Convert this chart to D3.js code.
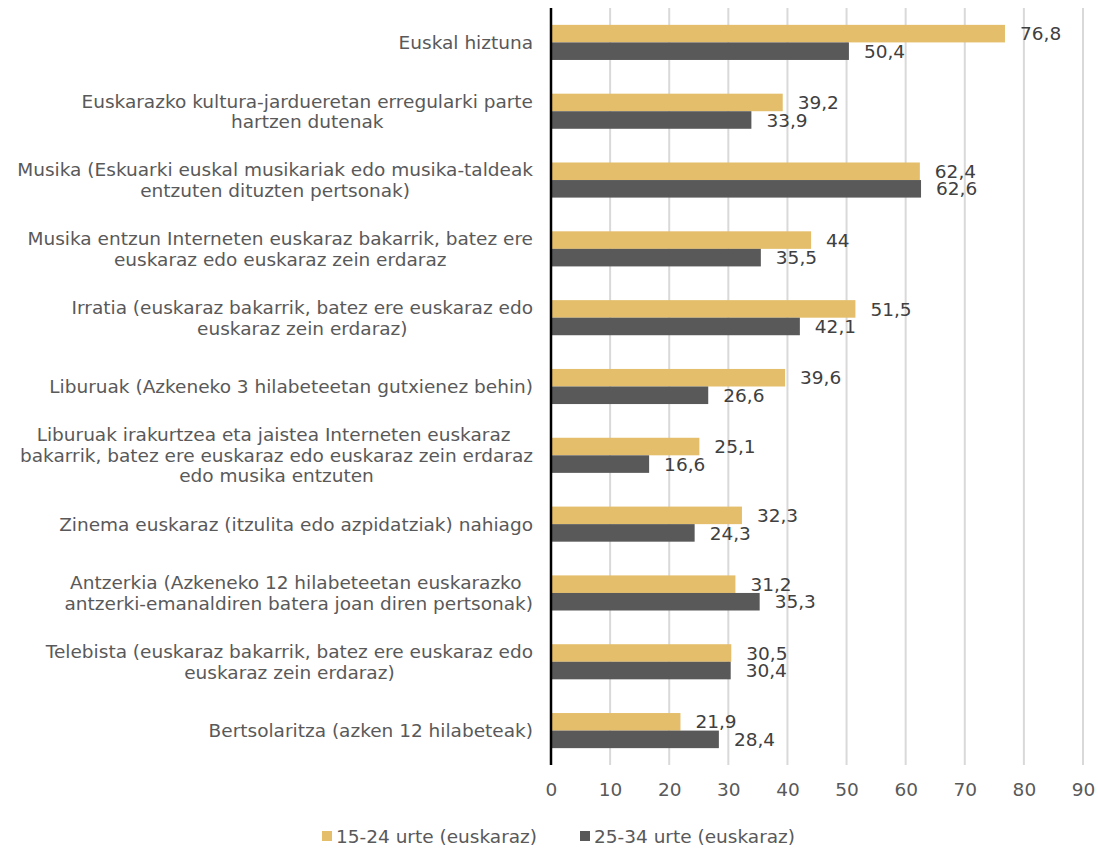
<!DOCTYPE html>
<html><head><meta charset="utf-8">
<script src="https://cdn.jsdelivr.net/npm/d3@7"></script>
<style>body{margin:0;background:#fff}svg{display:block;font-family:"DejaVu Sans",Verdana,sans-serif}</style>
</head><body><svg id="c" width="1098" height="849"></svg>
<script>
const categories = [
  "Euskal hiztuna",
  "Euskarazko kultura-jardueretan erregularki parte|hartzen dutenak",
  "Musika (Eskuarki euskal musikariak edo musika-taldeak|entzuten dituzten pertsonak)",
  "Musika entzun Interneten euskaraz bakarrik, batez ere|euskaraz edo euskaraz zein erdaraz",
  "Irratia (euskaraz bakarrik, batez ere euskaraz edo|euskaraz zein erdaraz)",
  "Liburuak (Azkeneko 3 hilabeteetan gutxienez behin)",
  "Liburuak irakurtzea eta jaistea Interneten euskaraz |bakarrik, batez ere euskaraz edo euskaraz zein erdaraz|edo musika entzuten",
  "Zinema euskaraz (itzulita edo azpidatziak) nahiago",
  "Antzerkia (Azkeneko 12 hilabeteetan euskarazko |antzerki-emanaldiren batera joan diren pertsonak)",
  "Telebista (euskaraz bakarrik, batez ere euskaraz edo|euskaraz zein erdaraz)",
  "Bertsolaritza (azken 12 hilabeteak)"
];
const series1Name = "15-24 urte (euskaraz)";
const series2Name = "25-34 urte (euskaraz)";
const series1 = [76.8, 39.2, 62.4, 44, 51.5, 39.6, 25.1, 32.3, 31.2, 30.5, 21.9];
const series2 = [50.4, 33.9, 62.6, 35.5, 42.1, 26.6, 16.6, 24.3, 35.3, 30.4, 28.4];
const xTicks = [0,10,20,30,40,50,60,70,80,90];

(function(){
const svg = d3.select("#c");
const pL = 551, pR = 1083, pT = 8, pB = 765;
const fs = "18.5px";
const x = d3.scaleLinear().domain([0,90]).range([pL,pR]);
const y = d3.scaleBand().domain(d3.range(categories.length)).range([pT,pB]).paddingInner(0.49).paddingOuter(0.245);
const sub = d3.scaleBand().domain([0,1]).range([0,y.bandwidth()]);
const colors = ["#E4BE6A","#595959"];
const textCol = "#595959";

svg.append("g").selectAll("line").data(xTicks.slice(1)).join("line")
  .attr("x1",d=>x(d)).attr("x2",d=>x(d)).attr("y1",pT).attr("y2",pB)
  .attr("stroke","#D9D9D9").attr("stroke-width",2);

const xAxis = d3.axisBottom(x).tickValues(xTicks).tickSize(0).tickPadding(0);
const gx = svg.append("g").attr("transform",`translate(0,${pB+18})`).call(xAxis);
gx.select(".domain").remove();
gx.selectAll("text").attr("fill",textCol).style("font-size",fs).style("font-family","DejaVu Sans, sans-serif");

const data = categories.map((c,i)=>({i, vals:[series1[i],series2[i]]}));
const groups = svg.append("g").selectAll("g").data(data).join("g")
  .attr("transform",d=>`translate(0,${y(d.i)})`);
groups.selectAll("rect").data(d=>d.vals.map((v,k)=>({v,k}))).join("rect")
  .attr("x",x(0)).attr("y",d=>sub(d.k)).attr("width",d=>x(d.v)-x(0)).attr("height",sub.bandwidth())
  .attr("fill",d=>colors[d.k]);
groups.selectAll("text.val").data(d=>d.vals.map((v,k)=>({v,k}))).join("text")
  .attr("class","val")
  .attr("x",d=>x(d.v)+15).attr("y",d=>sub(d.k)+sub.bandwidth()/2).attr("dy","0.36em")
  .attr("fill","#404040").style("font-size",fs)
  .text(d=>String(d.v).replace(".",","));

svg.append("line").attr("x1",pL).attr("x2",pL).attr("y1",pT).attr("y2",pB)
  .attr("stroke","#000").attr("stroke-width",2.5);

const lh = 20.5;
const lab = svg.append("g").selectAll("text").data(categories).join("text")
  .attr("text-anchor","middle").attr("fill",textCol).style("font-size",fs)
  .each(function(c,i){
    const lines = c.split("|");
    const cy = y(i)+y.bandwidth()/2;
    d3.select(this).selectAll("tspan").data(lines).join("tspan")
      .attr("y",(d,k)=>cy+(k-(lines.length-1)/2)*lh).attr("dy","0.36em").text(d=>d);
  });
lab.each(function(){
  const t = d3.select(this);
  let maxW = 0;
  t.selectAll("tspan").each(function(){maxW=Math.max(maxW,this.getComputedTextLength());});
  t.selectAll("tspan").attr("x",533 - maxW/2);
});

const leg = [{n:series1Name,c:colors[0],x:322},{n:series2Name,c:colors[1],x:580}];
const lg = svg.append("g").selectAll("g").data(leg).join("g").attr("transform",d=>`translate(${d.x},836)`);
lg.append("rect").attr("x",0).attr("y",-5).attr("width",10).attr("height",10).attr("fill",d=>d.c);
lg.append("text").attr("x",14).attr("dy","0.36em").attr("fill",textCol).style("font-size",fs).text(d=>d.n);
})();
</script></body></html>
